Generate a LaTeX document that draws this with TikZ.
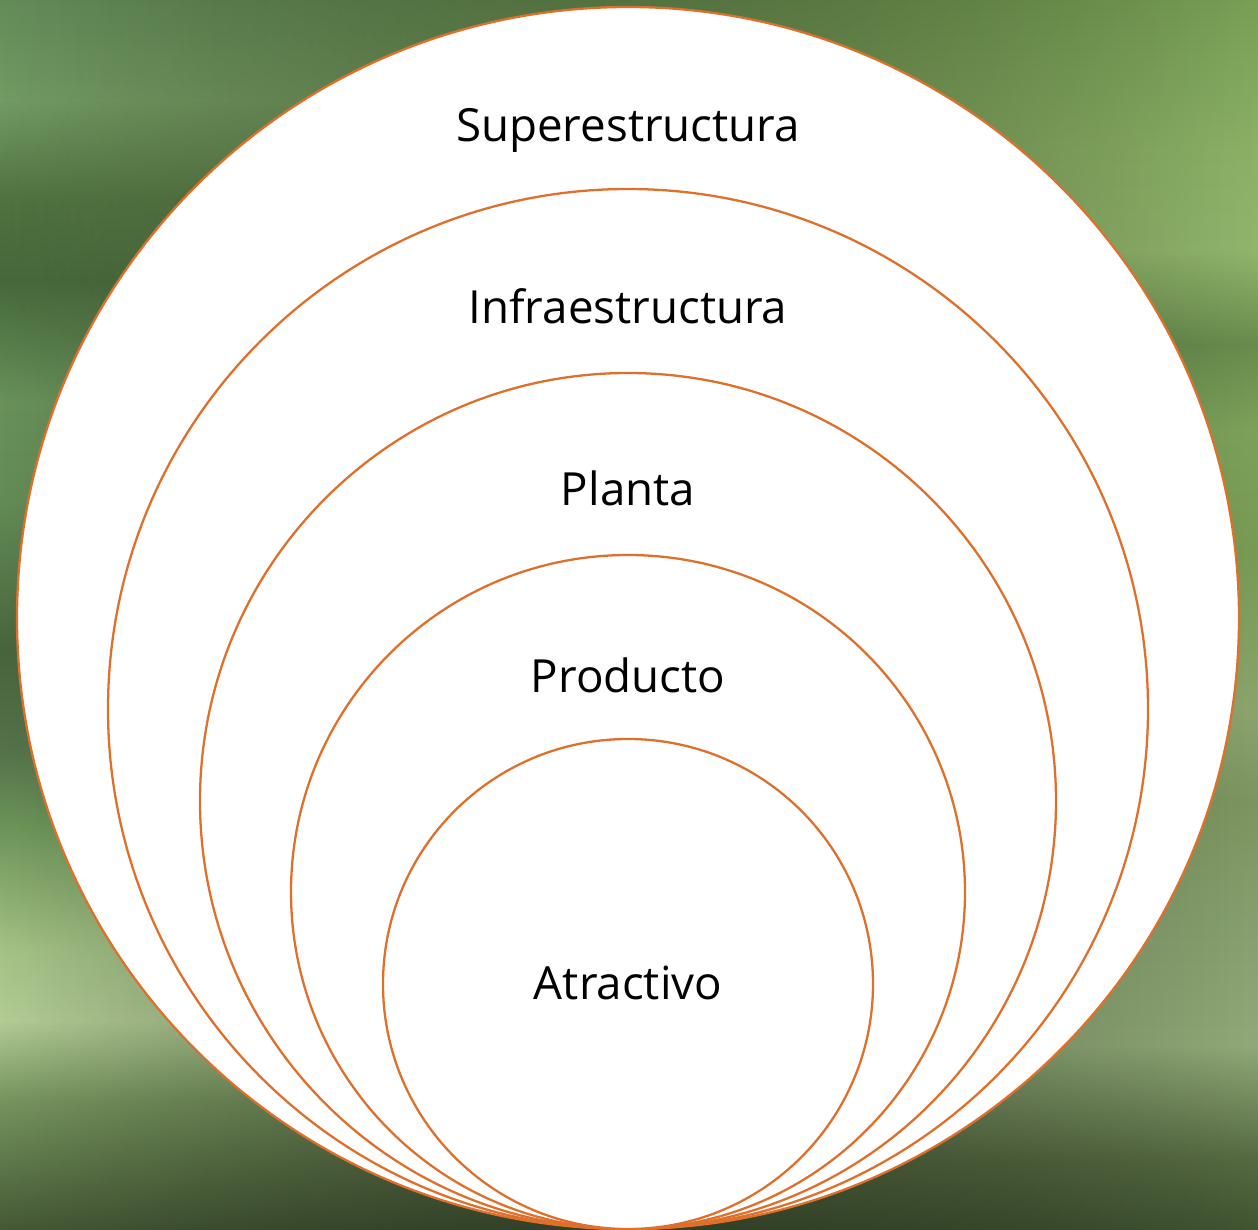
\documentclass[tikz,border=0pt]{standalone}
\usepackage{fontspec}
\setmainfont{Open Sans}
\usetikzlibrary{fadings}

\definecolor{ringorange}{RGB}{222,112,44}
% left column of the grass background
\definecolor{gl1}{RGB}{70,90,55}
\definecolor{gl2}{RGB}{120,150,95}
\definecolor{gl3}{RGB}{180,205,150}
\definecolor{gl4}{RGB}{165,195,135}
\definecolor{gl5}{RGB}{110,150,90}
\definecolor{gl6}{RGB}{85,115,75}
\definecolor{gl7}{RGB}{72,102,62}
\definecolor{gl8}{RGB}{100,140,85}
\definecolor{gl9}{RGB}{105,145,90}
\definecolor{gl10}{RGB}{70,105,60}
\definecolor{gl11}{RGB}{80,115,65}
\definecolor{gl12}{RGB}{115,155,100}
\definecolor{gl13}{RGB}{100,140,90}
% right column
\definecolor{gr1}{RGB}{65,85,50}
\definecolor{gr2}{RGB}{85,105,65}
\definecolor{gr3}{RGB}{145,170,120}
\definecolor{gr4}{RGB}{135,160,110}
\definecolor{gr5}{RGB}{125,150,95}
\definecolor{gr6}{RGB}{140,165,110}
\definecolor{gr7}{RGB}{120,155,85}
\definecolor{gr8}{RGB}{125,162,90}
\definecolor{gr9}{RGB}{105,140,78}
\definecolor{gr10}{RGB}{145,182,108}
\definecolor{gr11}{RGB}{140,178,102}
\definecolor{gr12}{RGB}{125,165,90}
\definecolor{gr13}{RGB}{120,160,85}

\pgfdeclareverticalshading{grassleft}{100bp}{color(0bp)=(gl1); color(25bp)=(gl1);
  color(30.3bp)=(gl2); color(33.5bp)=(gl3); color(36.4bp)=(gl4); color(41.3bp)=(gl5);
  color(44.5bp)=(gl6); color(48.6bp)=(gl7); color(54.7bp)=(gl8); color(58.7bp)=(gl9);
  color(63.6bp)=(gl10); color(66.9bp)=(gl11); color(70.9bp)=(gl12); color(75bp)=(gl13);
  color(100bp)=(gl13)}
\pgfdeclareverticalshading{grassright}{100bp}{color(0bp)=(gr1); color(25bp)=(gr1);
  color(27.8bp)=(gr2); color(32.5bp)=(gr3); color(37.6bp)=(gr4); color(42.5bp)=(gr5);
  color(46.1bp)=(gr6); color(52.6bp)=(gr7); color(57.5bp)=(gr8); color(61bp)=(gr9);
  color(64.8bp)=(gr10); color(68.9bp)=(gr11); color(73.4bp)=(gr12); color(75bp)=(gr13);
  color(100bp)=(gr13)}
\tikzfading[name=fade to right, left color=transparent!100, right color=transparent!0]

\begin{document}
\begin{tikzpicture}[x=0.02cm, y=-0.02cm,
    ringline/.style={draw=ringorange, line width=1.3pt, fill=white},
    ringtext/.style={anchor=base, font=\fontsize{26}{31}\selectfont, text=black}]
    \useasboundingbox (0,0) rectangle (1258,1230);
    % =========================
    \fill[shading=grassleft] (0,0) rectangle (1258,1230);
    \fill[shading=grassright, path fading=fade to right] (0,0) rectangle (1258,1230);
    % ===============================
    \foreach \r/\cy in {611/618, 520/709, 428/801, 337/892, 245/984}
        \draw[ringline] (628,\cy) circle[radius=\r];

    \node[ringtext] (super) at (628,142) {Superestructura};
    \node[ringtext] (infra) at (628,323) {Infraestructura};
    \node[ringtext] (planta) at (628,505) {Planta};
    \node[ringtext] (producto) at (628,692) {Producto};
    \node[ringtext] (atractivo) at (628,999) {Atractivo};
\end{tikzpicture}
\end{document}
